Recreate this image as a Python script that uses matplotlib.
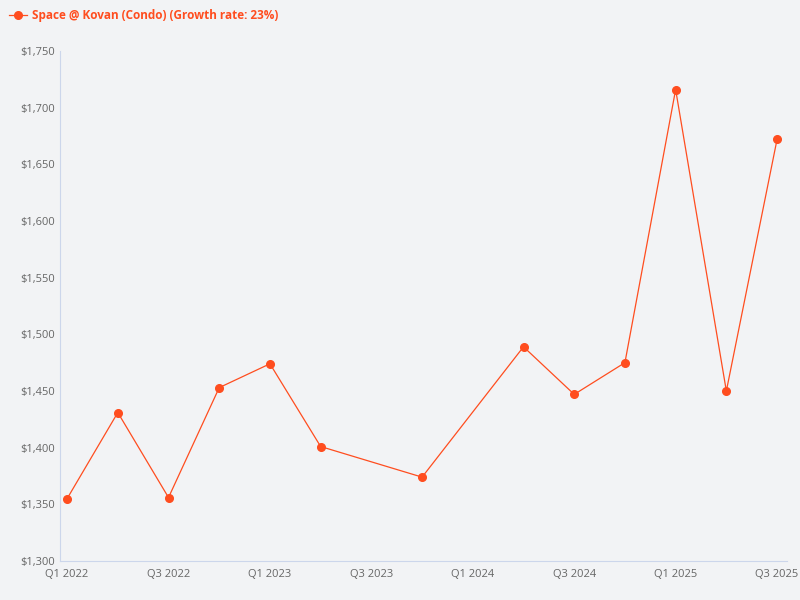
import matplotlib
matplotlib.use("Agg")
import matplotlib.pyplot as plt
from matplotlib.ticker import FuncFormatter

quarter_idx = [0, 1, 2, 3, 4, 5, 7, 9, 10, 11, 12, 13, 14]
prices = [1355, 1431, 1356, 1453, 1474, 1401, 1374, 1489, 1447, 1475, 1716, 1450, 1672]
tick_pos = [0, 2, 4, 6, 8, 10, 12, 14]
tick_labels = ["Q1 2022", "Q3 2022", "Q1 2023", "Q3 2023", "Q1 2024", "Q3 2024", "Q1 2025", "Q3 2025"]
series_name = "Space @ Kovan (Condo) (Growth rate: 23%)"

plt.rcParams['font.family'] = ['Open Sans', 'DejaVu Sans']
bg = "#f2f3f5"
col = "#ff4d1f"
fig = plt.figure(figsize=(8, 6), dpi=100, facecolor=bg)
ax = fig.add_axes([0.075, 0.065, 0.909, 0.85], facecolor=bg)
ax.plot(quarter_idx, prices, color=col, lw=0.9, marker='o', ms=5.5)
ax.set_xlim(-0.14, 14.2)
ax.set_ylim(1300, 1750)
ax.set_yticks(range(1300, 1751, 50))
ax.yaxis.set_major_formatter(FuncFormatter(lambda v, p: f"${v:,.0f}"))
ax.set_xticks(tick_pos)
ax.set_xticklabels(tick_labels)
ax.tick_params(labelsize=8, colors="#666666", length=0)
ax.tick_params(axis='x', pad=6)
for s in ["top", "right"]:
    ax.spines[s].set_visible(False)
ax.spines["left"].set_color("#ccd6eb")
ax.spines["bottom"].set_color("#ccd6eb")
ax.spines["left"].set_linewidth(0.8)
ax.spines["bottom"].set_linewidth(0.8)
fig.legend([ax.lines[0]], [series_name], loc="upper left", bbox_to_anchor=(0.0, 1.0),
           frameon=False, handlelength=1.5, prop={'size': 8.5, 'weight': 'bold'},
           labelcolor=col, borderaxespad=0.4, handletextpad=0.4)
fig.savefig("out.png", dpi=100, facecolor=bg)
